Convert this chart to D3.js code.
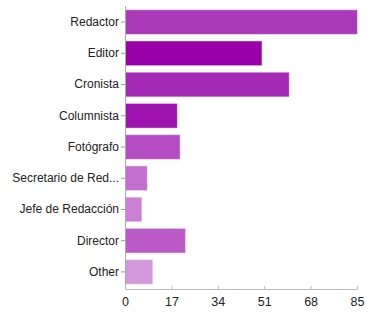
<!DOCTYPE html>
<html>
<head>
<meta charset="utf-8">
<script src="https://cdn.jsdelivr.net/npm/d3@7"></script>
<style>
  body { margin: 0; background: #fff; }
  text { font-family: "Liberation Sans", Arial, sans-serif; }
</style>
</head>
<body>
<div id="chart"></div>
<script>
const categories = ["Redactor", "Editor", "Cronista", "Columnista", "Fotógrafo",
  "Secretario de Red...", "Jefe de Redacción", "Director", "Other"];
const values = [85, 50, 60, 19, 20, 8, 6, 22, 10];
const barColors = ["#ab3ab9", "#9900a8", "#a42ab6", "#9d12ae", "#b54cc4",
  "#c46ecf", "#cb80d6", "#bd5ac9", "#d498dd"];
const xTicks = [0, 17, 34, 51, 68, 85];

const margin = {top: 6, right: 12, bottom: 24, left: 125},
  width = 369 - margin.left - margin.right,
  height = 313 - margin.top - margin.bottom;

const svg = d3.select("#chart")
  .append("svg")
    .attr("width", 369)
    .attr("height", 313)
  .append("g")
    .attr("transform", `translate(${margin.left},${margin.top})`);

const x = d3.scaleLinear()
  .domain([0, 85])
  .range([0, 232]);

const y = d3.scaleBand()
  .domain(categories)
  .range([0, height - 1])
  .paddingInner(0.21)
  .paddingOuter(0.12);

// bars
svg.selectAll("rect")
  .data(categories)
  .join("rect")
    .attr("x", 0.5)
    .attr("y", d => y(d))
    .attr("width", (d, i) => x(values[i]))
    .attr("height", y.bandwidth())
    .attr("fill", (d, i) => barColors[i])
    .attr("stroke", "rgba(255,255,255,0.45)")
    .attr("stroke-width", 1);

// y axis
const yAxis = svg.append("g")
  .call(d3.axisLeft(y).tickSize(4).tickPadding(2));
yAxis.select(".domain").attr("stroke", "#aaa").attr("d", `M0.5,0V${height}`);
yAxis.selectAll(".tick line").attr("stroke", "#999");
yAxis.selectAll("text").attr("fill", "#222").style("font-size", "12px");

// x axis
const xAxis = svg.append("g")
  .attr("transform", `translate(0,${height})`)
  .call(d3.axisBottom(x).tickValues(xTicks).tickSize(0).tickPadding(8));
xAxis.select(".domain").attr("stroke", "#bbb");
xAxis.selectAll(".tick line")
  .attr("stroke", "#bbb")
  .attr("y1", -3).attr("y2", 0);
xAxis.selectAll("text").attr("fill", "#222").style("font-size", "12.5px");
</script>
</body>
</html>
